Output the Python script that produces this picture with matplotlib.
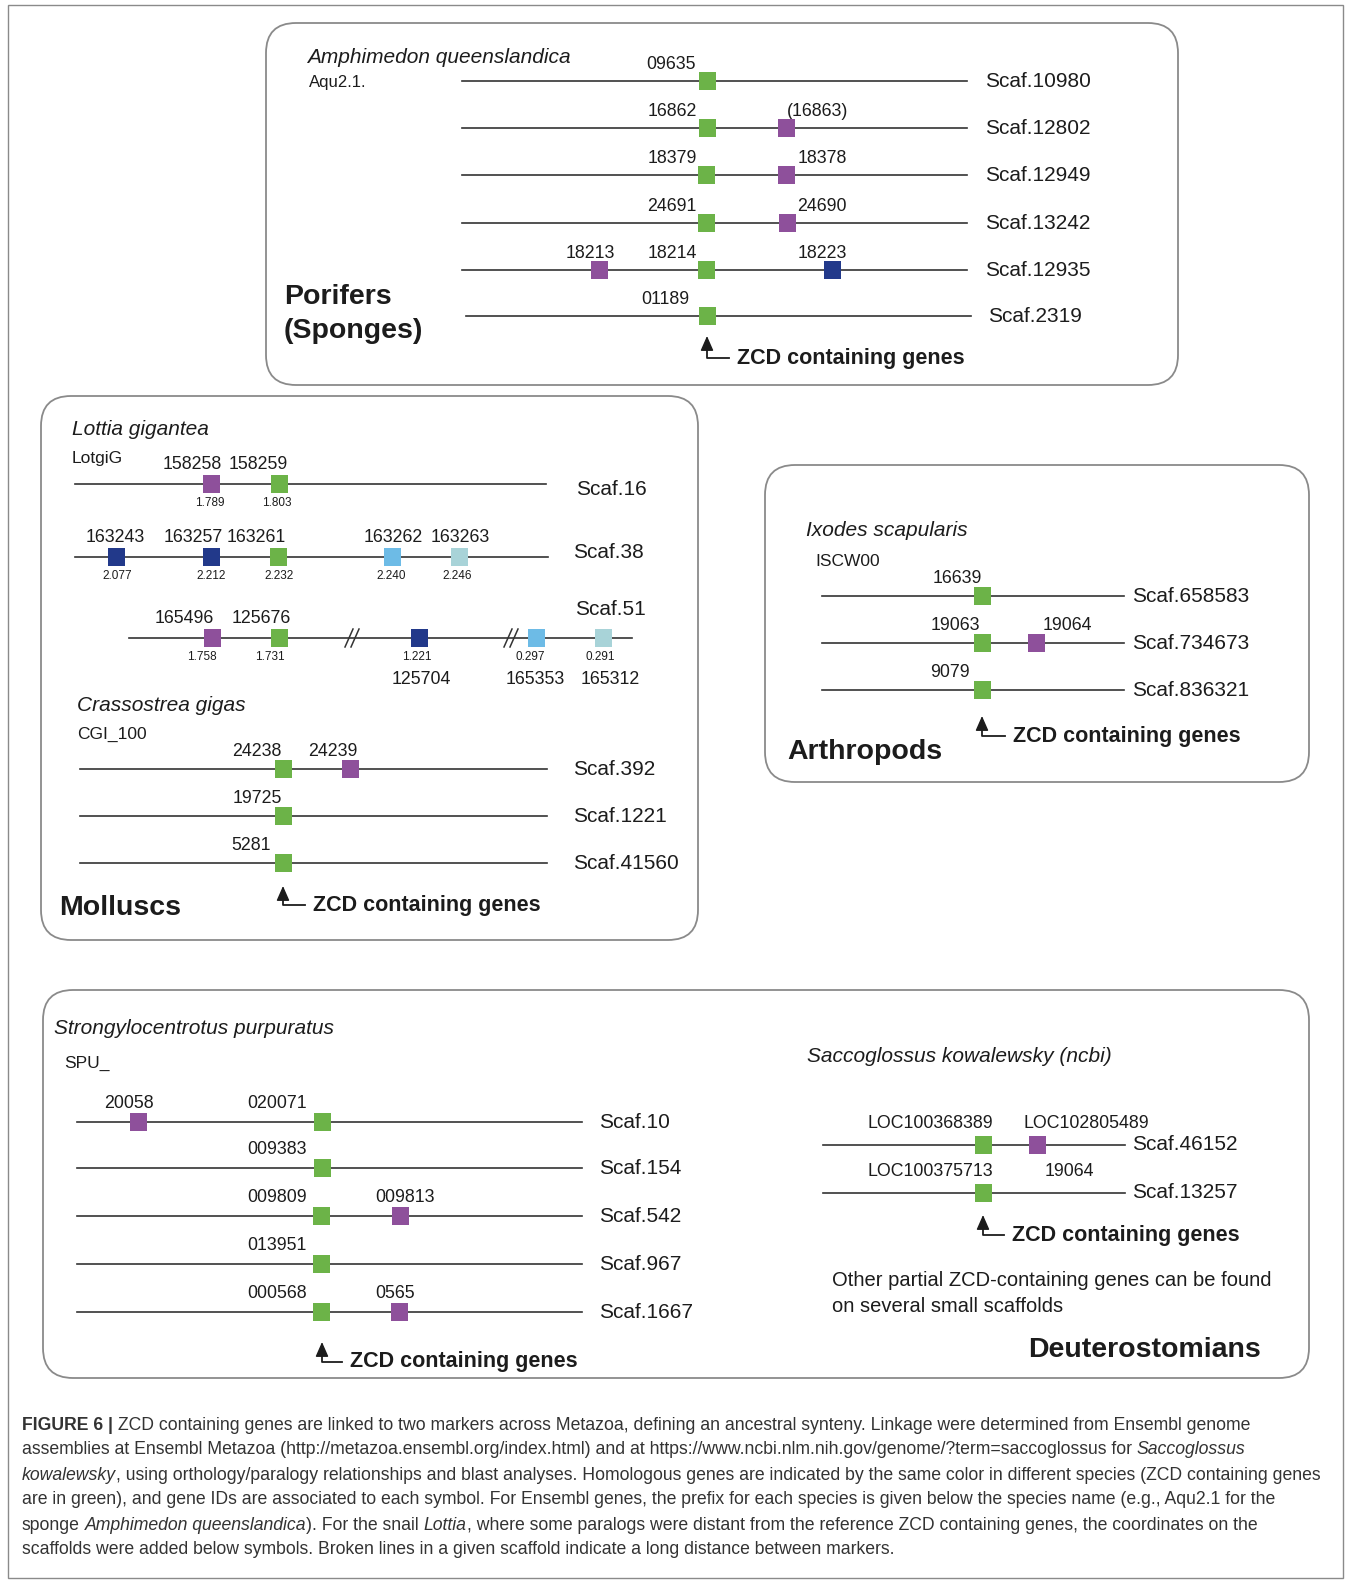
import matplotlib
matplotlib.use('Agg')
import matplotlib.pyplot as plt
from matplotlib.patches import FancyBboxPatch, Rectangle

plt.rcParams['font.family'] = ['Liberation Sans', 'DejaVu Sans']

W, H = 1360, 1583
COLORS = {'zcd': '#6cb348', 'm1': '#8e509b', 'm2': '#22398a', 'm3': '#6dbbe6', 'm4': '#a8d3d8'}
INK = '#1c1c1c'

# ---- Porifers (Amphimedon queenslandica) ----
pori_names = ['Scaf.10980', 'Scaf.12802', 'Scaf.12949', 'Scaf.13242', 'Scaf.12935', 'Scaf.2319']
pori_y = [81, 128, 175, 223, 270, 316]
pori_genes = [
    [('09635', 'zcd', 707, 671)],
    [('16862', 'zcd', 707, 672), ('(16863)', 'm1', 786, 818)],
    [('18379', 'zcd', 706, 672), ('18378', 'm1', 786, 822)],
    [('24691', 'zcd', 706, 672), ('24690', 'm1', 787, 822)],
    [('18213', 'm1', 599, 590), ('18214', 'zcd', 706, 672), ('18223', 'm2', 832, 822)],
    [('01189', 'zcd', 707, 665)],
]

# ---- Molluscs: Lottia gigantea (gene, kind, x, label x, coordinate, coord x, label below) ----
lot_names = ['Scaf.16', 'Scaf.38', 'Scaf.51']
lot_y = [484, 557, 638]
lot_genes = [
    [('158258', 'm1', 211, 192, '1.789', 210, False), ('158259', 'zcd', 279, 258, '1.803', 277, False)],
    [('163243', 'm2', 116, 115, '2.077', 117, False), ('163257', 'm2', 211, 193, '2.212', 211, False),
     ('163261', 'zcd', 278, 256, '2.232', 279, False), ('163262', 'm3', 392, 393, '2.240', 391, False),
     ('163263', 'm4', 459, 460, '2.246', 457, False)],
    [('165496', 'm1', 212, 184, '1.758', 202, False), ('125676', 'zcd', 279, 261, '1.731', 270, False),
     ('125704', 'm2', 419, 421, '1.221', 417, True), ('165353', 'm3', 536, 535, '0.297', 530, True),
     ('165312', 'm4', 603, 610, '0.291', 600, True)],
]
lot_breaks = [[], [], [352, 511]]

# ---- Molluscs: Crassostrea gigas ----
cra_names = ['Scaf.392', 'Scaf.1221', 'Scaf.41560']
cra_y = [769, 816, 863]
cra_genes = [
    [('24238', 'zcd', 283, 257), ('24239', 'm1', 350, 333)],
    [('19725', 'zcd', 283, 257)],
    [('5281', 'zcd', 283, 251)],
]

# ---- Arthropods: Ixodes scapularis ----
ixo_names = ['Scaf.658583', 'Scaf.734673', 'Scaf.836321']
ixo_y = [596, 643, 690]
ixo_genes = [
    [('16639', 'zcd', 982, 957)],
    [('19063', 'zcd', 982, 955), ('19064', 'm1', 1036, 1067)],
    [('9079', 'zcd', 982, 950)],
]

# ---- Deuterostomians: Strongylocentrotus purpuratus ----
spu_names = ['Scaf.10', 'Scaf.154', 'Scaf.542', 'Scaf.967', 'Scaf.1667']
spu_y = [1122, 1168, 1216, 1264, 1312]
spu_genes = [
    [('20058', 'm1', 138, 129), ('020071', 'zcd', 322, 277)],
    [('009383', 'zcd', 322, 277)],
    [('009809', 'zcd', 321, 277), ('009813', 'm1', 400, 405)],
    [('013951', 'zcd', 321, 277)],
    [('000568', 'zcd', 321, 277), ('0565', 'm1', 399, 395)],
]

# ---- Deuterostomians: Saccoglossus kowalewsky ----
sak_names = ['Scaf.46152', 'Scaf.13257']
sak_y = [1145, 1193]
sak_genes = [
    [('LOC100368389', 'zcd', 983, 930), ('LOC102805489', 'm1', 1037, 1086)],
    [('LOC100375713', 'zcd', 983, 930), ('19064', None, 1069, 1069)],
]

caption = [
    [('FIGURE 6 |', 'b'), ('ZCD containing genes are linked to two markers across Metazoa, defining an ancestral synteny. '
                           'Linkage were determined from Ensembl genome', 'n')],
    [('assemblies at Ensembl Metazoa (http://metazoa.ensembl.org/index.html) and at '
      'https://www.ncbi.nlm.nih.gov/genome/?term=saccoglossus for', 'n'), ('Saccoglossus', 'i')],
    [('kowalewsky', 'i'), (', using orthology/paralogy relationships and blast analyses. Homologous genes are indicated '
                           'by the same color in different species (ZCD containing genes', 'n')],
    [('are in green), and gene IDs are associated to each symbol. For Ensembl genes, the prefix for each species '
      'is given below the species name (e.g., Aqu2.1 for the', 'n')],
    [('sponge', 'n'), ('Amphimedon queenslandica', 'i'), ('). For the snail', 'n'), ('Lottia', 'i'),
     (', where some paralogs were distant from the reference ZCD containing genes, the coordinates on the', 'n')],
    [('scaffolds were added below symbols. Broken lines in a given scaffold indicate a long distance between markers.', 'n')],
]

fig = plt.figure(figsize=(W / 100, H / 100), dpi=100)
ax = fig.add_axes([0, 0, 1, 1])
ax.set_xlim(0, W)
ax.set_ylim(H, 0)
ax.axis('off')
renderer = fig.canvas.get_renderer()


def panel(x0, y0, x1, y1):
    ax.add_patch(FancyBboxPatch((x0, y0), x1 - x0, y1 - y0, boxstyle='round,pad=0,rounding_size=30',
                                fc='white', ec='#8a8a8a', lw=1.3, zorder=1))


def scaffold(y, x0, x1, name, name_x, genes, dy=-18, fs=12.8, name_dy=0, breaks=()):
    ax.plot([x0, x1], [y, y], color='#333333', lw=1.2, zorder=2)
    for b in breaks:
        for off in (-3, 3):
            ax.plot([b + off - 4, b + off + 4], [y + 9, y - 9], color='#333333', lw=1.1, zorder=3)
    for g in genes:
        label, kind, gx, lx = g[:4]
        if kind is not None:
            ax.add_patch(Rectangle((gx - 8.5, y - 9), 17, 18, fc=COLORS[kind], ec='none', zorder=4))
        below = len(g) > 6 and g[6]
        ax.text(lx, y + 41 if below else y + dy, label, fontsize=fs, color=INK, ha='center', va='center')
        if len(g) > 4:
            ax.text(g[5], y + 19, g[4], fontsize=8.5, color=INK, ha='center', va='center')
    ax.text(name_x, y + name_dy, name, fontsize=15, color=INK, ha='left', va='center')


def zcd_arrow(x, tip, ty, tx):
    ax.plot([x, x, tx - 8], [tip + 6, ty, ty], color=INK, lw=1.3, zorder=3)
    ax.annotate('', xy=(x, tip), xytext=(x, tip + 8),
                arrowprops=dict(arrowstyle='-|>,head_length=0.5,head_width=0.22', color=INK,
                                lw=1.0, shrinkA=0, shrinkB=0, mutation_scale=18))
    ax.text(tx, ty, 'ZCD containing genes', fontsize=15.5, fontweight='bold', color=INK, ha='left', va='center')


# outer frame
ax.add_patch(Rectangle((8, 5), 1335, 1573, fc='none', ec='#8a8a8a', lw=1.0))

# Porifers
panel(266, 23, 1178, 385)
ax.text(307, 57, 'Amphimedon queenslandica', fontsize=15, style='italic', color=INK, va='center')
ax.text(309, 82, 'Aqu2.1.', fontsize=12, color=INK, va='center')
for i in range(len(pori_names)):
    x0, x1, nx = (466, 971, 988) if i == 5 else (462, 967, 985)
    scaffold(pori_y[i], x0, x1, pori_names[i], nx, pori_genes[i], dy=-17)
ax.text(284, 297, 'Porifers', fontsize=20.5, fontweight='bold', color=INK, va='center')
ax.text(284, 331, '(Sponges)', fontsize=20.5, fontweight='bold', color=INK, va='center')
zcd_arrow(707, 336, 358, 737)

# Molluscs
panel(41, 396, 698, 940)
ax.text(72, 429, 'Lottia gigantea', fontsize=15, style='italic', color=INK, va='center')
ax.text(72, 458, 'LotgiG', fontsize=12.5, color=INK, va='center')
lot_line = [(75, 546), (75, 548), (129, 632)]
lot_name_pos = [(576, 5), (573, -5), (575, -29)]
for i in range(len(lot_names)):
    scaffold(lot_y[i], lot_line[i][0], lot_line[i][1], lot_names[i], lot_name_pos[i][0], lot_genes[i],
             dy=-20, name_dy=lot_name_pos[i][1], breaks=lot_breaks[i])
ax.text(77, 705, 'Crassostrea gigas', fontsize=15, style='italic', color=INK, va='center')
ax.text(77, 734, 'CGI_100', fontsize=12.5, color=INK, va='center')
for i in range(len(cra_names)):
    scaffold(cra_y[i], 80, 547, cra_names[i], 573, cra_genes[i], dy=-18)
ax.text(59, 908, 'Molluscs', fontsize=20.5, fontweight='bold', color=INK, va='center')
zcd_arrow(283, 886, 905, 313)

# Arthropods
panel(765, 465, 1309, 782)
ax.text(806, 531, 'Ixodes scapularis', fontsize=15, style='italic', color=INK, va='center')
ax.text(815, 561, 'ISCW00', fontsize=12.5, color=INK, va='center')
for i in range(len(ixo_names)):
    scaffold(ixo_y[i], 822, 1124, ixo_names[i], 1132, ixo_genes[i], dy=-18)
ax.text(787, 752, 'Arthropods', fontsize=20.5, fontweight='bold', color=INK, va='center')
zcd_arrow(982, 716, 736, 1013)

# Deuterostomians
panel(43, 990, 1309, 1378)
ax.text(54, 1029, 'Strongylocentrotus purpuratus', fontsize=15, style='italic', color=INK, va='center')
ax.text(64, 1063, 'SPU_', fontsize=12.5, color=INK, va='center')
for i in range(len(spu_names)):
    scaffold(spu_y[i], 77, 582, spu_names[i], 599, spu_genes[i], dy=-19)
zcd_arrow(322, 1342, 1362, 350)
ax.text(807, 1056, 'Saccoglossus kowalewsky (ncbi)', fontsize=15, style='italic', color=INK, va='center')
for i in range(len(sak_names)):
    scaffold(sak_y[i], 823, 1125, sak_names[i], 1132, sak_genes[i], dy=-22)
zcd_arrow(983, 1215, 1235, 1012)
ax.text(832, 1281, 'Other partial ZCD-containing genes can be found', fontsize=14.5, color=INK, va='center')
ax.text(832, 1306, 'on several small scaffolds', fontsize=14.5, color=INK, va='center')
ax.text(1028, 1350, 'Deuterostomians', fontsize=20.5, fontweight='bold', color=INK, va='center')

# caption with mixed styles
CAP_FS = 12.7
probe = ax.text(0, 0, 'x x', fontsize=CAP_FS)
probe2 = ax.text(0, 0, 'xx', fontsize=CAP_FS)
space_w = probe.get_window_extent(renderer).width - probe2.get_window_extent(renderer).width
probe.remove()
probe2.remove()
for row, parts in enumerate(caption):
    x = 22
    y = 1425 + row * 25
    for j, (txt, st) in enumerate(parts):
        if j > 0 and txt[0] not in ',).':
            x += space_w
        t = ax.text(x, y, txt, fontsize=CAP_FS, color='#333333', va='center', ha='left',
                    fontweight='bold' if st == 'b' else 'normal',
                    style='italic' if st == 'i' else 'normal')
        x += t.get_window_extent(renderer).width

fig.savefig('out.png', dpi=100)
